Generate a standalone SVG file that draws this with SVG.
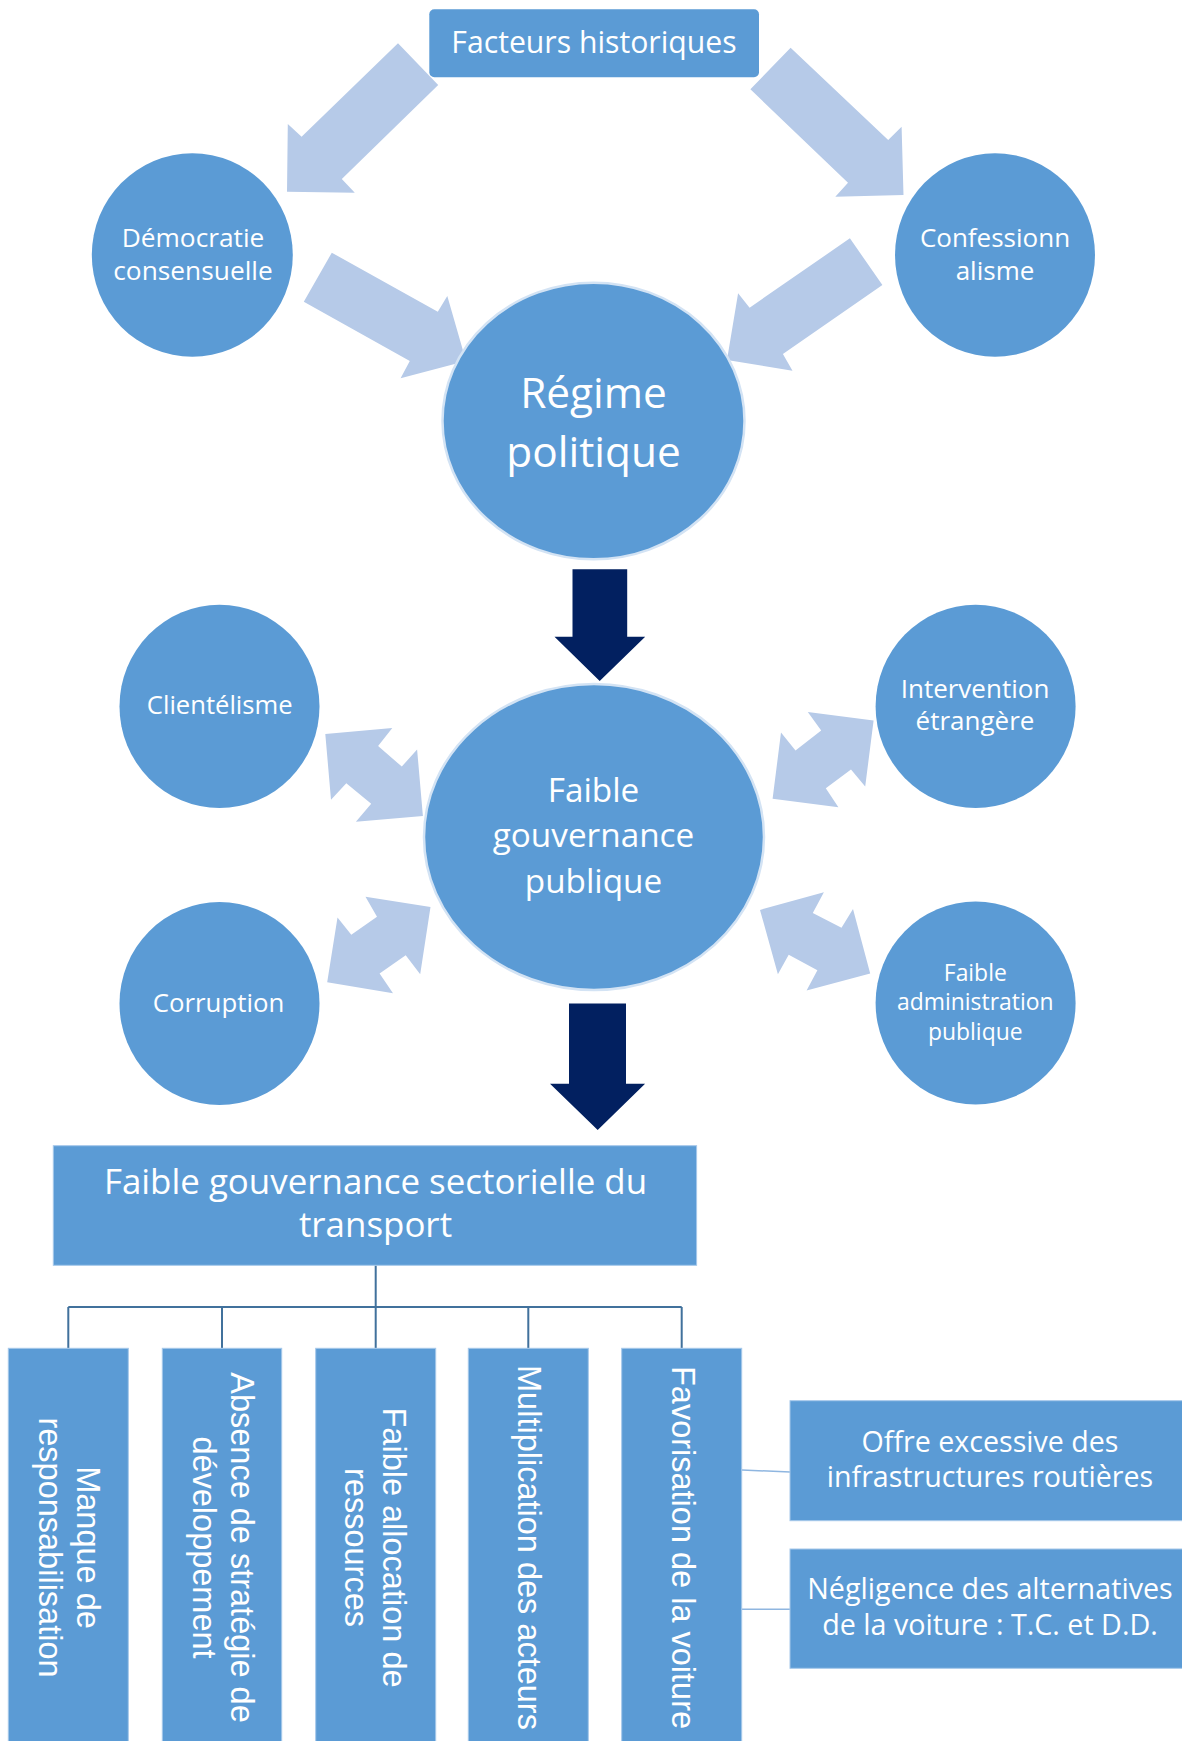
<svg xmlns="http://www.w3.org/2000/svg" width="1182" height="1741" viewBox="0 0 1182 1741">
<style>
  .node { fill: #5b9bd5; }
  .ring { fill: #5b9bd5; stroke: #d3e3f4; stroke-width: 2.5; }
  .box { fill: #5b9bd5; stroke: #a6c8ea; stroke-width: 1; }
  .light { fill: #b6cae8; }
  .dark { fill: #022060; }
  .tree { fill: none; stroke: #41719c; stroke-width: 2; }
  .side { fill: none; stroke: #8fb6e0; stroke-width: 1.5; }
  .t { font-family: "Open Sans", "Noto Sans", sans-serif; fill: #ffffff; text-anchor: middle; }
  .v { font-family: "Liberation Sans", Arial, sans-serif; fill: #ffffff; text-anchor: middle; font-size: 32.5px; }
</style>
<rect width="1182" height="1741" fill="#ffffff"/>

<g id="connectors">
  <!-- light block arrows -->
  <polygon class="light" points="398,43.3 438.2,85 341.8,179 354.8,192.7 287,191.7 287.8,124 301.6,136.7"/>
  <polygon class="light" points="790.6,47.7 888.2,140 901.6,126.7 903.5,195 835.3,196.7 848,182.7 750.4,89.3"/>
  <polygon class="light" points="331.8,252.7 437.8,311.7 447.3,296 466,361 400.6,378.3 409.8,361 303.8,301.7"/>
  <polygon class="light" points="849.9,238.3 882.4,285 782.9,354 792.5,370.7 727,360 738.1,293.3 749.6,307.7"/>
  <!-- double arrows -->
  <polygon class="light" points="325.3,733.9 392.3,728.1 378.1,746 401.8,766.6 417.1,749.4 422.9,815.9 355.9,821.7 371.2,803.8 346.3,783.2 331,799.7"/>
  <polygon class="light" points="430.5,907.1 420.2,974.3 405.7,955.3 379.6,973.6 393,993.2 327.2,982.2 337.5,917.5 351.3,934.7 377,916.8 365.5,896.8"/>
  <polygon class="light" points="873.6,720.5 865.2,786.6 851,769.4 825.8,788.3 838.4,807.3 772.6,798.7 781,732.5 795.5,750.5 821.2,730.5 807.8,711.9"/>
  <polygon class="light" points="760,909.9 823.9,892.3 812.8,913 841.5,927.8 853,908.9 870.2,973.6 806.6,990.5 817.4,970.2 788.7,954.7 777.9,974.3"/>
  <!-- dark block arrows -->
  <polygon class="dark" points="572.5,569.3 627.2,569.3 627.2,636.7 645.2,636.7 599.7,681 554.5,636.7 572.5,636.7"/>
  <polygon class="dark" points="569,1003.6 626,1003.6 626,1083.8 645.1,1083.8 597.7,1130 550,1083.8 569,1083.8"/>
  <!-- tree lines -->
  <path class="tree" d="M375.7,1265.3 V1348.3 M68.3,1306.9 H681.7 M68.3,1306.9 V1348.3 M222,1306.9 V1348.3 M528.3,1306.9 V1348.3 M681.7,1306.9 V1348.3"/>
  <path class="side" d="M742,1470 L790,1472 M742,1609.3 H790"/>
</g>

<g id="facteurs">
  <rect class="node" x="429.3" y="9.3" width="329.7" height="68" rx="5"/>
  <text class="t" x="594" y="52.7" font-size="30.2">Facteurs historiques</text>
</g>

<g id="democratie">
  <ellipse class="node" cx="192.3" cy="255" rx="100.5" ry="101.7"/>
  <text class="t" font-size="26.3"><tspan x="193" y="247.3">Démocratie</tspan><tspan x="193" y="280">consensuelle</tspan></text>
</g>

<g id="confessionnalisme">
  <ellipse class="node" cx="995" cy="255" rx="100" ry="101.7"/>
  <text class="t" font-size="26"><tspan x="995" y="247.3">Confessionn</tspan><tspan x="995" y="280">alisme</tspan></text>
</g>

<g id="regime">
  <ellipse class="ring" cx="593.5" cy="421" rx="151" ry="138.3"/>
  <text class="t" font-size="42.4"><tspan x="593.5" y="408.3">Régime</tspan><tspan x="593.5" y="467.3">politique</tspan></text>
</g>

<g id="clientelisme">
  <ellipse class="node" cx="219.5" cy="706.4" rx="100" ry="101.6"/>
  <text class="t" x="219.7" y="714.3" font-size="25.6">Clientélisme</text>
</g>

<g id="corruption">
  <ellipse class="node" cx="219.5" cy="1003.5" rx="100" ry="101.5"/>
  <text class="t" x="218.5" y="1011.5" font-size="25.8">Corruption</text>
</g>

<g id="intervention">
  <ellipse class="node" cx="975.6" cy="706.4" rx="100" ry="101.6"/>
  <text class="t" font-size="26"><tspan x="975" y="697.6">Intervention</tspan><tspan x="975" y="730.3">étrangère</tspan></text>
</g>

<g id="administration">
  <ellipse class="node" cx="975.6" cy="1003" rx="100" ry="101.5"/>
  <text class="t" font-size="22.9"><tspan x="975.3" y="981.2">Faible</tspan><tspan x="975.3" y="1010.4">administration</tspan><tspan x="975.3" y="1039.7">publique</tspan></text>
</g>

<g id="gouvernance">
  <ellipse class="ring" cx="594" cy="837" rx="170" ry="153"/>
  <text class="t" font-size="33.3"><tspan x="593.5" y="801.7">Faible</tspan><tspan x="593.5" y="847">gouvernance</tspan><tspan x="593.5" y="893.3">publique</tspan></text>
</g>

<g id="sectorielle">
  <rect class="box" x="53.3" y="1145.7" width="643.3" height="119.6"/>
  <text class="t" font-size="34.9"><tspan x="375.5" y="1193.9">Faible gouvernance sectorielle du</tspan><tspan x="375.5" y="1237.4">transport</tspan></text>
</g>

<g id="manque">
  <rect class="box" x="8.3" y="1348.3" width="120" height="410"/>
  <text class="v" transform="translate(77.3,1547.5) rotate(90)"><tspan x="0" y="0">Manque de</tspan><tspan x="0" y="38">responsabilisation</tspan></text>
</g>

<g id="absence">
  <rect class="box" x="162.3" y="1348.3" width="119.4" height="410"/>
  <text class="v" transform="translate(230.7,1547.5) rotate(90)"><tspan x="0" y="0">Absence de stratégie de</tspan><tspan x="0" y="38">développement</tspan></text>
</g>

<g id="allocation">
  <rect class="box" x="315.7" y="1348.3" width="120" height="410"/>
  <text class="v" transform="translate(383.3,1547.5) rotate(90)"><tspan x="0" y="0">Faible allocation de</tspan><tspan x="0" y="38">ressources</tspan></text>
</g>

<g id="multiplication">
  <rect class="box" x="468.3" y="1348.3" width="120" height="410"/>
  <text class="v" transform="translate(518.3,1547.5) rotate(90)">Multiplication des acteurs</text>
</g>

<g id="favorisation">
  <rect class="box" x="621.7" y="1348.3" width="120" height="410"/>
  <text class="v" transform="translate(671.7,1547.5) rotate(90)">Favorisation de la voiture</text>
</g>

<g id="offre">
  <rect class="box" x="790" y="1400.7" width="400" height="120"/>
  <text class="t" font-size="28.6"><tspan x="990" y="1451.7">Offre excessive des</tspan><tspan x="990" y="1487.3">infrastructures routières</tspan></text>
</g>

<g id="negligence">
  <rect class="box" x="790" y="1549" width="400" height="119.3"/>
  <text class="t" font-size="28.7"><tspan x="990" y="1599.3">Négligence des alternatives</tspan><tspan x="990" y="1635">de la voiture : T.C. et D.D.</tspan></text>
</g>
</svg>
